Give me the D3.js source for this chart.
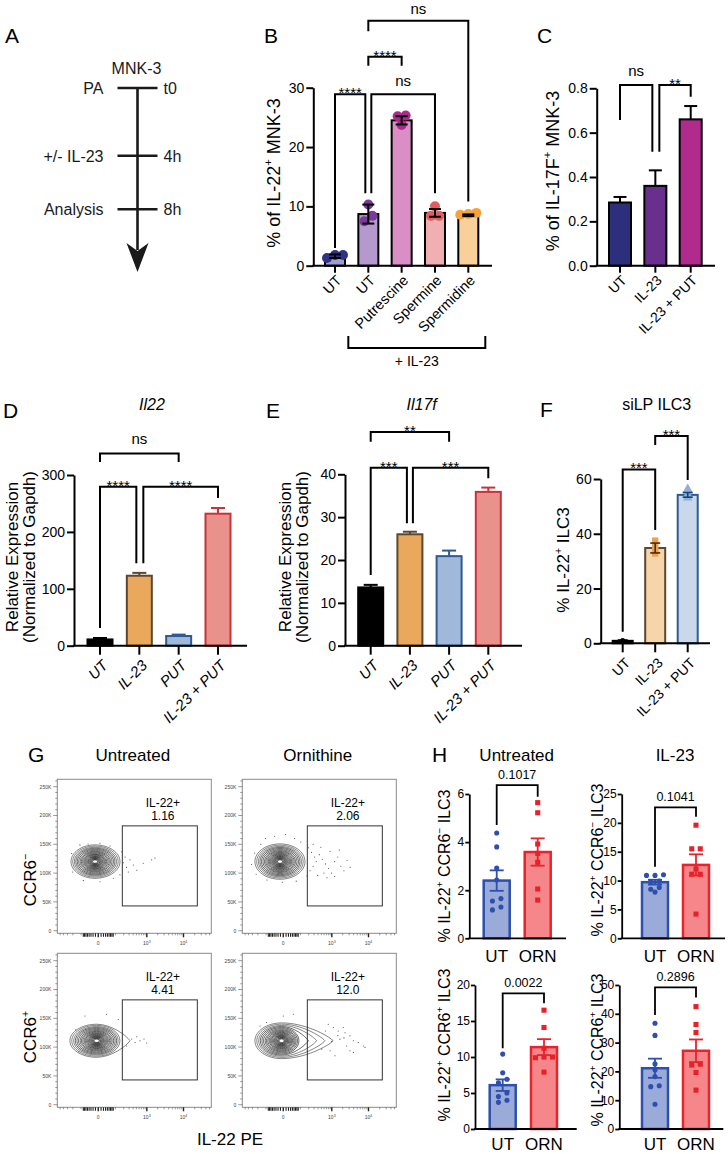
<!DOCTYPE html>
<html><head><meta charset="utf-8">
<script src="https://cdn.jsdelivr.net/npm/d3@7"></script>
<style>
body{margin:0;background:#fff}
svg{display:block}
text{font-family:"Liberation Sans",Arial,Helvetica,sans-serif}
</style>
</head><body>
<svg id="c" width="728" height="1154"></svg>
<script>
// ================= DATA =================
// A: timeline
const aSteps = ["PA", "+/- IL-23", "Analysis"];
const aTimes = ["t0", "4h", "8h"];
const aHours = [0, 4, 8];

// B
const bKeys = ["UT0", "UT", "PUT", "SPM", "SPD"];
const bLabels = ["UT", "UT", "Putrescine", "Spermine", "Spermidine"];
const bMeans = [1.6, 8.7, 24.5, 8.9, 8.5];
const bSD = [0.3, 1.6, 0.7, 0.65, 0.15];
const bPoints = [[1.3, 1.8, 1.8], [10.3, 8.4, 7.5], [25.3, 25.2, 23.7], [10.0, 8.4, 8.4], [8.9, 8.7, 8.6]];
const bTicks = [0, 10, 20, 30];
const bFills = ["#9a9ed0", "#b598cd", "#d98fc6", "#f2afb1", "#f9d09a"];
const bDots = ["#2e3386", "#7a3a9c", "#b0278f", "#e25c60", "#f6a13d"];
const bBrackets = [
  { a: "UT0", b: "UT", y: 28.9, ya: 3.0, yb: 12.2, db: -3, label: "****" },
  { a: "UT", b: "PUT", y: 35.2, ya: 33.7, yb: 33.7, label: "****" },
  { a: "UT", b: "SPM", y: 28.9, ya: 12.2, yb: 12.2, da: 3, label: "ns" },
  { a: "UT", b: "SPD", y: 41.3, ya: 39.5, yb: 10.8, label: "ns", ns: 6.5 }
];

// C
const cKeys = ["UT", "IL-23", "IL-23 + PUT"];
const cMeans = [0.285, 0.36, 0.66];
const cSEM = [0.025, 0.07, 0.06];
const cTicks = [0, 0.2, 0.4, 0.6, 0.8];
const cFills = ["#2b2f7c", "#682f8d", "#b02b8d"];
const cBrackets = [
  { a: "UT", b: "IL-23", y: 0.815, ya: 0.657, yb: 0.514, db: -3, label: "ns" },
  { a: "IL-23", b: "IL-23 + PUT", y: 0.815, ya: 0.514, yb: 0.762, da: 4, label: "**" }
];

// D / E
const deKeys = ["UT", "IL-23", "PUT", "IL-23 + PUT"];
const dMeans = [11, 123, 17, 232];
const dSEM = [2.5, 5, 2.5, 10];
const dTicks = [0, 100, 200, 300];
const dBrackets = [
  { a: "UT", b: "PUT", y: 338, ya: 323, yb: 323, label: "ns" },
  { a: "UT", b: "IL-23", y: 279.4, ya: 31, yb: 145, db: -3, label: "****" },
  { a: "IL-23", b: "IL-23 + PUT", y: 279.4, ya: 145, yb: 259.6, da: 4, label: "****" }
];
const eMeans = [13.6, 26.0, 20.9, 35.9];
const eSEM = [0.6, 0.6, 1.3, 1.0];
const eTicks = [0, 10, 20, 30, 40];
const eBrackets = [
  { a: "UT", b: "PUT", y: 49.9, ya: 47.6, yb: 47.6, label: "**" },
  { a: "UT", b: "IL-23", y: 41.5, ya: 16.5, yb: 28.6, db: -3, label: "***" },
  { a: "IL-23", b: "IL-23 + PUT", y: 41.5, ya: 28.6, yb: 39.1, da: 3, label: "***" }
];
const deFills = ["#000000", "#e9a85c", "#a0b8da", "#e8928b"];
const deStrokes = ["#000000", "#5c4830", "#2f5a92", "#c8323a"];

// F
const fKeys = ["UT", "IL-23", "IL-23 + PUT"];
const fMeans = [0.9, 34.8, 54.2];
const fSD = [0.3, 1.8, 0.85];
const fPoints = [[1.0, 0.8, 0.7], [37.5, 36.0, 34.2, 32.8], [56.3, 54.3, 53.2]];
const fTicks = [0, 20, 40, 60];
const fFills = ["#000000", "#f6d5ab", "#c9d8eb"];
const fStrokes = ["#000000", "#5c4830", "#2f5a92"];
const fDots = ["#111111", "#f0a04a", "#8cb0db"];
const fBrackets = [
  { a: "UT", b: "IL-23", y: 63.5, ya: 4.2, yb: 41.4, label: "***" },
  { a: "IL-23", b: "IL-23 + PUT", y: 75.7, ya: 72.4, yb: 59.6, label: "***" }
];

// G: flow plots (x in display %, y in K)
const gCols = ["Untreated", "Ornithine"];
const gFreq = [1.16, 2.06, 4.41, 12.0];
const gLevels = [1, .93, .86, .8, .74, .68, .62, .57, .52, .47, .43, .39, .35, .31, .28, .25, .22, .19, .16, .13, .1];
const gBlobs = [
  [24.5, 120, 15.6, 16.2, 29],
  [24.5, 120, 16.3, 16.2, 30.7],
  [25.6, 111, 17.4, 16.2, 28.7],
  [25.6, 111, 17.4, 15.1, 31]
];
const gTails = [[], [], [21.6], [33.4, 28.1, 22.7, 17.3]];
const gDots = [
  [[41.8,137],[44,128],[47.2,123],[49.4,114],[51.6,105],[55.8,117],[61.3,123],[63.4,126],[46.1,102],[40.7,97],[14.7,149],[20,150.5],[27.7,151.7],[34.2,147],[9.3,134],[10,102],[16.9,87],[27.7,85],[36.4,91],[43,118],[45,110]],
  [[15,160],[21,164],[28,167],[34,160],[38,154],[12,150],[8,135],[6,115],[9,98],[16,88],[26,84],[35,86],[42,95],[44,104],[46,112],[48,120],[47,128],[45,136],[43,144],[50,132],[52,124],[54,116],[56,108],[58,100],[53,100],[60,120],[62,128],[64,112],[66,104],[49,96],[55,92],[60,94],[68,122],[57,138],[51,145],[63,140],[70,110],[46,150]],
  [[18,154],[32,157],[48.3,114],[50.5,108],[53.7,111],[56.3,114],[58,107],[51.6,118],[45,102],[39.6,148],[12,130],[14,92]],
  [[55.8,139.7],[59.1,134],[62.3,128],[66.7,125],[69.9,119.5],[72.1,110.9],[75.3,108],[78.6,102],[67.8,102],[69.9,93.6],[72.1,90.8],[60.2,85],[57,93.6],[51.6,96.5],[33.1,157],[26.6,154],[15.8,142.6],[11.5,136.7],[65.6,134],[63.4,113.8],[79.7,99.5],[62,120],[58,110],[54,128],[66,116]]
];
const gYTicks = [0, 50, 100, 150, 200, 250];
const gXMajor = [[0, "0", ""], [1000, "10", "3"], [10000, "10", "4"]];
const gXMinor = [-500,-400,-300,-200,-100,-80,-70,-60,-50,-40,-30,-20,-10,10,20,30,40,50,60,70,80,100,200,300,400,500,600,700,800,900,2000,3000,4000,5000,6000,7000,8000,9000,20000,30000,40000,50000];
const gGate = [180, 23500, 43, 182];

// H
const hGroups = ["UT", "ORN"];
const hNegUntrUT = [4.38, 3.8, 2.92, 2.42, 1.65, 1.55, 1.3, 1.18];
const hNegUntrORN = [5.64, 5.22, 3.92, 3.53, 3.16, 2.05, 1.59];
const hNegIL23UT = [10.9, 10.9, 11.0, 9.8, 9.9, 8.8, 8.0, 8.5];
const hNegIL23ORN = [19.6, 15.5, 15.5, 12.0, 11.1, 11.1, 4.2];
const hPosUntrUT = [10.4, 7.8, 6.9, 6.4, 5.0, 4.5, 4.0, 3.7];
const hPosUntrORN = [16.5, 14.1, 11.2, 10.0, 10.0, 9.9, 7.9];
const hPosIL23UT = [36.7, 32.5, 22.6, 20.5, 18.2, 15.0, 14.7, 8.6];
const hPosIL23ORN = [42.5, 36.3, 33.5, 22.5, 22.2, 19.6, 13.5];
const hPvals = ["0.1017", "0.1041", "0.0022", "0.2896"];
const hFills = ["#9aaad9", "#f5878b"];
const hStrokes = ["#2d4fae", "#e8232b"];
const hDots = ["#2f4fae", "#e8202a"];

// ================= DRAWING =================
const svg = d3.select("#c");
svg.append("rect").attr("width", 728).attr("height", 1154).attr("fill", "#fff");

function rich(t, parts, fs) {
  let back = 0;
  parts.forEach(p => {
    if (typeof p === "string") {
      const ts = t.append("tspan").text(p);
      if (back) { ts.attr("dy", back); back = 0; }
    } else {
      t.append("tspan").attr("dy", -0.42 * fs).attr("font-size", fs * 0.62).text(p.sup);
      back = 0.42 * fs;
    }
  });
}
function txt(x, y, s, o = {}) {
  const fs = o.fs || 14;
  const t = svg.append("text").attr("x", x).attr("y", y)
    .attr("font-size", fs).attr("text-anchor", o.anchor || "start")
    .attr("fill", o.fill || "#000");
  if (o.italic) t.attr("font-style", "italic");
  if (o.rotate != null) t.attr("transform", `rotate(${o.rotate},${x},${y})`);
  if (Array.isArray(s)) rich(t, s, fs); else t.text(s);
  return t;
}

function rowOffsets(vals, y, tol, gap) {
  const idx = d3.range(vals.length).sort((i, j) => vals[j] - vals[i]);
  const offs = new Array(vals.length).fill(0);
  let row = [];
  const flush = () => { row.forEach((id, r) => offs[id] = ((row.length - 1) / 2 - r) * gap); row = []; };
  idx.forEach(id => {
    if (row.length && Math.abs(y(vals[row[0]]) - y(vals[id])) > tol) flush();
    row.push(id);
  });
  flush();
  return offs;
}

function barPanel(o) {
  const g = svg.append("g");
  const x = d3.scalePoint().domain(o.keys).range([o.c0, o.c1]);
  const y = d3.scaleLinear().domain([0, o.yMax]).range([o.yBase, o.yTop]);
  // bars
  g.selectAll(null).data(o.keys).join("rect")
    .attr("x", k => x(k) - o.barW / 2).attr("width", o.barW)
    .attr("y", (k, i) => y(o.means[i])).attr("height", (k, i) => y(0) - y(o.means[i]))
    .attr("fill", (k, i) => o.fills[i]).attr("stroke", (k, i) => o.strokes[i])
    .attr("stroke-width", o.barSW);
  // points
  if (o.points) {
    o.points.forEach((vals, i) => {
      const offs = rowOffsets(vals, y, o.rowTol, o.rowGap);
      const sym = d3.symbol().type(o.shapes[i]).size(o.symSize[i]);
      g.selectAll(null).data(vals).join("path")
        .attr("d", sym)
        .attr("transform", (v, j) => `translate(${x(o.keys[i]) + offs[j]},${y(v)})`)
        .attr("fill", o.ptColors[i]);
    });
  }
  // error bars
  o.keys.forEach((k, i) => {
    const cx = x(k), m = o.means[i], e = o.err[i];
    const col = o.errColors[i];
    const lo = o.errMode === "both" ? m - e : m;
    g.append("line").attr("x1", cx).attr("x2", cx).attr("y1", y(lo)).attr("y2", y(m + e))
      .attr("stroke", col).attr("stroke-width", o.errSW);
    const caps = o.errMode === "both" ? [m + e, m - e] : [m + e];
    caps.forEach(cv => g.append("line").attr("x1", cx - o.capW / 2).attr("x2", cx + o.capW / 2)
      .attr("y1", y(cv)).attr("y2", y(cv)).attr("stroke", col).attr("stroke-width", o.errSW));
  });
  // y axis
  const ax = d3.axisLeft(y).tickValues(o.ticks).tickSize(o.tickLen).tickSizeOuter(0)
    .tickPadding(o.tickPad).tickFormat(o.fmt);
  const ag = g.append("g").attr("transform", `translate(${o.x0},0)`).call(ax);
  ag.attr("font-size", o.tickFS);
  ag.select(".domain").attr("stroke-width", o.axisSW).attr("stroke", "#000");
  ag.selectAll(".tick line").attr("stroke-width", o.axisSW).attr("stroke", "#000");
  ag.selectAll(".tick text").attr("fill", "#000");
  // x axis
  g.append("line").attr("x1", o.x0 - o.axisSW / 2).attr("x2", o.x1)
    .attr("y1", o.yBase).attr("y2", o.yBase).attr("stroke", "#000").attr("stroke-width", o.axisSW);
  if (o.xTickLen) {
    g.selectAll(null).data(o.keys).join("line")
      .attr("x1", k => x(k)).attr("x2", k => x(k))
      .attr("y1", o.yBase).attr("y2", o.yBase + o.xTickLen)
      .attr("stroke", "#000").attr("stroke-width", o.axisSW);
  }
  o.keys.forEach((k, i) => {
    const t = g.append("text").attr("font-size", o.xFS).attr("fill", "#000");
    if (o.xItalic) t.attr("font-style", "italic");
    if (o.rot) {
      t.attr("transform", `translate(${x(k) + o.lblDx},${o.yBase + o.lblDy}) rotate(${o.rot})`)
        .attr("text-anchor", "end").attr("dy", "0.35em");
    } else {
      t.attr("x", x(k)).attr("y", o.yBase + o.lblDy).attr("text-anchor", "middle");
    }
    t.text(o.labels[i]);
  });
  // brackets
  (o.brackets || []).forEach(b => {
    const xa = x(b.a) + (b.da || 0), xb = x(b.b) + (b.db || 0);
    const yy = y(b.y);
    g.append("path").attr("d", `M${xa},${y(b.ya)}V${yy}H${xb}V${y(b.yb)}`)
      .attr("fill", "none").attr("stroke", "#000").attr("stroke-width", o.brSW);
    const star = /\*/.test(b.label);
    g.append("text").attr("x", (xa + xb) / 2).attr("y", star ? yy + o.starDy : yy - (b.ns || o.nsDy))
      .attr("text-anchor", "middle").attr("font-size", star ? o.starFS : o.brFS)
      .attr("fill", "#000").text(b.label);
  });
  return { x, y };
}

// ---------- Panel letters ----------
[["A", 5, 43], ["B", 264, 43], ["C", 537, 43], ["D", 3, 418], ["E", 266, 418], ["F", 540, 417], ["G", 28, 762], ["H", 432, 762]]
  .forEach(([s, x, y]) => txt(x, y, s, { fs: 21 }));

// ---------- Panel A ----------
{
  const aY = d3.scalePow().exponent(0.84).domain([0, 8]).range([88, 209.3]);
  const ax = 137.5;
  svg.append("line").attr("x1", ax).attr("x2", ax).attr("y1", aY(0) - 1).attr("y2", 250)
    .attr("stroke", "#1a1a1a").attr("stroke-width", 2.6);
  svg.append("path").attr("d", `M${ax - 11},243 L${ax},251 L${ax + 11},243 L${ax},272 Z`).attr("fill", "#1a1a1a");
  aHours.forEach((h, i) => {
    const yy = aY(h);
    svg.append("line").attr("x1", ax - 20).attr("x2", ax + 20).attr("y1", yy).attr("y2", yy)
      .attr("stroke", "#1a1a1a").attr("stroke-width", 2.6);
    txt(ax - 34, yy + 6, aSteps[i], { fs: 16, anchor: "end", fill: "#1a1a1a" });
    txt(ax + 26, yy + 6, aTimes[i], { fs: 16, fill: "#1a1a1a" });
  });
  txt(ax - 1, 74, "MNK-3", { fs: 16, anchor: "middle", fill: "#1a1a1a" });
}

// ---------- Panel B ----------
const pB = barPanel({
  keys: bKeys, labels: bLabels, means: bMeans, err: bSD, errMode: "both",
  points: bPoints, shapes: bKeys.map(() => d3.symbolCircle), symSize: bKeys.map(() => Math.PI * 25),
  ptColors: bDots, rowTol: 6, rowGap: 8,
  fills: bFills, strokes: bKeys.map(() => "#000"), errColors: bKeys.map(() => "#000"),
  x0: 313.3, x1: 492, c0: 335, c1: 468.3, yBase: 265.7, yTop: 87.7, yMax: 30,
  ticks: bTicks, fmt: d3.format("d"), tickLen: 7, tickPad: 2, tickFS: 14,
  barW: 20, barSW: 2, axisSW: 2, errSW: 2, capW: 12, xTickLen: 7,
  xFS: 14.5, xItalic: false, rot: -45, lblDx: 4, lblDy: 12,
  brackets: bBrackets, brSW: 2, brFS: 15, starFS: 15, nsDy: 8, starDy: 4
});
txt(279.6, 173, ["% of IL-22", { sup: "+" }, " MNK-3"], { fs: 18, rotate: -90, anchor: "middle" });
{
  const xa = pB.x("UT") - 20, xb = pB.x("SPD") + 17;
  svg.append("path").attr("d", `M${xa},336V348H${xb}V336`).attr("fill", "none")
    .attr("stroke", "#000").attr("stroke-width", 2);
  txt((xa + xb) / 2, 366, "+ IL-23", { fs: 14, anchor: "middle" });
}

// ---------- Panel C ----------
barPanel({
  keys: cKeys, labels: cKeys, means: cMeans, err: cSEM, errMode: "up",
  fills: cFills, strokes: cKeys.map(() => "#000"), errColors: cKeys.map(() => "#000"),
  x0: 596.7, x1: 715, c0: 620, c1: 690.7, yBase: 265.7, yTop: 88.3, yMax: 0.8,
  ticks: cTicks, fmt: d3.format(".1f"), tickLen: 7, tickPad: 2, tickFS: 14,
  barW: 22, barSW: 2, axisSW: 2, errSW: 2, capW: 13, xTickLen: 7,
  xFS: 14, xItalic: false, rot: -45, lblDx: 4, lblDy: 12,
  brackets: cBrackets, brSW: 2, brFS: 15, starFS: 15, nsDy: 9, starDy: 4
});
txt(559, 171, ["% of IL-17F", { sup: "+" }, " MNK-3"], { fs: 18, rotate: -90, anchor: "middle" });

// ---------- Panel D ----------
barPanel({
  keys: deKeys, labels: deKeys, means: dMeans, err: dSEM, errMode: "up",
  fills: deFills, strokes: deStrokes, errColors: deStrokes,
  x0: 74, x1: 247, c0: 100, c1: 218, yBase: 645.7, yTop: 475, yMax: 300,
  ticks: dTicks, fmt: d3.format("d"), tickLen: 7, tickPad: 2, tickFS: 14,
  barW: 25, barSW: 2, axisSW: 2, errSW: 2, capW: 14, xTickLen: 9,
  xFS: 15, xItalic: true, rot: -45, lblDx: 5, lblDy: 17,
  brackets: dBrackets, brSW: 2, brFS: 15, starFS: 15, nsDy: 9, starDy: 4
});
txt(152, 410, "Il22", { fs: 16, anchor: "middle", italic: true });
txt(17.5, 557, "Relative Expression", { fs: 17, rotate: -90, anchor: "middle" });
txt(34.5, 557, "(Normalized to Gapdh)", { fs: 17, rotate: -90, anchor: "middle" });

// ---------- Panel E ----------
barPanel({
  keys: deKeys, labels: deKeys, means: eMeans, err: eSEM, errMode: "up",
  fills: deFills, strokes: deStrokes, errColors: deStrokes,
  x0: 345, x1: 522, c0: 370.7, c1: 488.3, yBase: 645.7, yTop: 474.3, yMax: 40,
  ticks: eTicks, fmt: d3.format("d"), tickLen: 7, tickPad: 2, tickFS: 14,
  barW: 25, barSW: 2, axisSW: 2, errSW: 2, capW: 14, xTickLen: 9,
  xFS: 15, xItalic: true, rot: -45, lblDx: 5, lblDy: 17,
  brackets: eBrackets, brSW: 2, brFS: 15, starFS: 15, nsDy: 9, starDy: 4
});
txt(421.7, 410, "Il17f", { fs: 16, anchor: "middle", italic: true });
txt(290.5, 557, "Relative Expression", { fs: 17, rotate: -90, anchor: "middle" });
txt(307.5, 557, "(Normalized to Gapdh)", { fs: 17, rotate: -90, anchor: "middle" });

// ---------- Panel F ----------
barPanel({
  keys: fKeys, labels: fKeys, means: fMeans, err: fSD, errMode: "both",
  points: fPoints, shapes: [d3.symbolCircle, d3.symbolSquare, d3.symbolTriangle],
  symSize: [20, 40, 40], ptColors: fDots, rowTol: 0, rowGap: 0,
  fills: fFills, strokes: fStrokes, errColors: ["#000", "#3d3020", "#1f3f70"],
  x0: 600.7, x1: 710, c0: 622.7, c1: 687.7, yBase: 643.3, yTop: 479, yMax: 60,
  ticks: fTicks, fmt: d3.format("d"), tickLen: 7, tickPad: 2, tickFS: 14,
  barW: 20, barSW: 2, axisSW: 2, errSW: 1.6, capW: 10, xTickLen: 9,
  xFS: 14, xItalic: false, rot: -45, lblDx: 5, lblDy: 17,
  brackets: fBrackets, brSW: 2, brFS: 15, starFS: 15, nsDy: 9, starDy: 4
});
txt(656.7, 410, "siLP ILC3", { fs: 16, anchor: "middle" });
txt(569, 560, ["% IL-22", { sup: "+" }, " ILC3"], { fs: 17, rotate: -90, anchor: "middle" });

// ---------- Panel G ----------
{
  const lefts = [57.3, 242.3], tops = [779.3, 953.3], W = 154, Hh = 154;
  gCols.forEach((c, j) => txt(lefts[j] + W / 2 - 1.5, 760.7, c, { fs: 17, anchor: "middle" }));
  txt(36, 880, ["CCR6", { sup: "\u2212" }], { fs: 17, rotate: -90, anchor: "middle" });
  txt(36, 1037, ["CCR6", { sup: "+" }], { fs: 17, rotate: -90, anchor: "middle" });
  txt(230, 1145, "IL-22 PE", { fs: 17, anchor: "middle" });
  const fmtF = d3.format(".3r");
  for (let r = 0; r < 2; r++) for (let c = 0; c < 2; c++) {
    const p = r * 2 + c;
    const L = lefts[c], T = tops[r];
    const g = svg.append("g");
    const xs = d3.scaleSymlog().constant(53).domain([-606, 55600]).range([L, L + W]);
    const xd = d3.scaleLinear().domain([0, 100]).range([L, L + W]);
    const ys = d3.scaleLinear().domain([0, 250]).range([T + Hh - 2.6, T + 7.4]);
    g.append("rect").attr("x", L).attr("y", T).attr("width", W).attr("height", Hh)
      .attr("fill", "none").attr("stroke", "#8a8a8a").attr("stroke-width", 1);
    // y ticks
    d3.range(0, 261, 10).forEach(v => {
      const major = v % 50 === 0;
      g.append("line").attr("x1", L).attr("x2", L - (major ? 4 : 2)).attr("y1", ys(v)).attr("y2", ys(v))
        .attr("stroke", "#555").attr("stroke-width", 0.6);
    });
    gYTicks.forEach(v => {
      g.append("text").attr("x", L - 6).attr("y", ys(v) + 1.8).attr("text-anchor", "end")
        .attr("font-size", 5).attr("fill", "#444").text(v === 0 ? "0" : v + "K");
    });
    // x ticks
    const yb = T + Hh;
    gXMinor.forEach(v => g.append("line").attr("x1", xs(v)).attr("x2", xs(v)).attr("y1", yb).attr("y2", yb + (Math.abs(v) < 100 ? 3.5 : 2))
      .attr("stroke", Math.abs(v) < 100 ? "#222" : "#555").attr("stroke-width", Math.abs(v) < 100 ? 1.1 : 0.6));
    gXMajor.forEach(([v, l, s]) => {
      g.append("line").attr("x1", xs(v)).attr("x2", xs(v)).attr("y1", yb).attr("y2", yb + 4)
        .attr("stroke", "#222").attr("stroke-width", 1.4);
      const t = g.append("text").attr("x", xs(v)).attr("y", yb + 12).attr("text-anchor", "middle")
        .attr("font-size", 5).attr("fill", "#444");
      t.append("tspan").text(l);
      if (s) t.append("tspan").attr("dy", -2).attr("font-size", 3.5).text(s);
    });
    // contours
    const [cx, cy, lx, rx, ry] = gBlobs[p];
    const pcx = xd(cx), pcy = ys(cy);
    gLevels.forEach((f, i) => {
      const L2 = (xd(cx) - xd(cx - lx * f));
      const tail = gTails[p][i];
      const R2 = tail != null ? xd(cx + tail) - pcx : xd(cx + rx * f) - pcx;
      const Ry = (ys(0) - ys(ry * f));
      const k = 0.5523;
      let d = `M${pcx},${pcy - Ry}`;
      d += ` C${pcx - L2 * k},${pcy - Ry} ${pcx - L2},${pcy - Ry * k} ${pcx - L2},${pcy}`;
      d += ` C${pcx - L2},${pcy + Ry * k} ${pcx - L2 * k},${pcy + Ry} ${pcx},${pcy + Ry}`;
      if (tail != null) {
        d += ` C${pcx + R2 * 0.45},${pcy + Ry} ${pcx + R2 * 0.9},${pcy + Ry * 0.3} ${pcx + R2},${pcy}`;
        d += ` C${pcx + R2 * 0.9},${pcy - Ry * 0.3} ${pcx + R2 * 0.45},${pcy - Ry} ${pcx},${pcy - Ry}`;
      } else {
        d += ` C${pcx + R2 * k},${pcy + Ry} ${pcx + R2},${pcy + Ry * k} ${pcx + R2},${pcy}`;
        d += ` C${pcx + R2},${pcy - Ry * k} ${pcx + R2 * k},${pcy - Ry} ${pcx},${pcy - Ry}`;
      }
      g.append("path").attr("d", d + "Z").attr("fill", "none")
        .attr("stroke", i < 3 ? "#333" : "#1a1a1a").attr("stroke-width", i < 3 ? 0.6 : 0.65);
    });
    // dots
    g.selectAll(null).data(gDots[p]).join("circle")
      .attr("cx", d => xd(d[0])).attr("cy", d => ys(d[1])).attr("r", 0.55).attr("fill", "#444");
    // gate
    const gx0 = xs(gGate[0]), gx1 = xs(gGate[1]), gy0 = ys(gGate[3]), gy1 = ys(gGate[2]);
    g.append("rect").attr("x", gx0).attr("y", gy0).attr("width", gx1 - gx0).attr("height", gy1 - gy0)
      .attr("fill", "none").attr("stroke", "#333").attr("stroke-width", 1);
    const lx0 = (gx0 + gx1) / 2 + 3;
    g.append("text").attr("x", lx0).attr("y", gy0 - 19).attr("text-anchor", "middle").attr("font-size", 12).text("IL-22+");
    g.append("text").attr("x", lx0).attr("y", gy0 - 6).attr("text-anchor", "middle").attr("font-size", 12).text(fmtF(gFreq[p]));
  }
}

// ---------- Panel H ----------
{
  txt(516.7, 760.7, "Untreated", { fs: 17, anchor: "middle" });
  txt(675, 760.7, "IL-23", { fs: 17, anchor: "middle" });
  const sets = [
    { ut: hNegUntrUT, orn: hNegUntrORN, x0: 469.3, x1: 566, c0: 496.7, c1: 537.7, yBase: 938.3, yTop: 794, yMax: 6, ticks: [0, 2, 4, 6], br: [6.37, 4.71, 5.89], ld: 24 },
    { ut: hNegIL23UT, orn: hNegIL23ORN, x0: 621.7, x1: 725, c0: 655, c1: 696, yBase: 938.3, yTop: 794, yMax: 25, ticks: [0, 5, 10, 15, 20, 25], br: [22.7, 12.4, 21.07], ld: 24 },
    { ut: hPosUntrUT, orn: hPosUntrORN, x0: 475, x1: 576.7, c0: 502.7, c1: 544, yBase: 1129, yTop: 985, yMax: 20, ticks: [0, 5, 10, 15, 20], br: [18.85, 11.2, 17.46], ld: 20.5 },
    { ut: hPosIL23UT, orn: hPosIL23ORN, x0: 619.3, x1: 723.3, c0: 655, c1: 696, yBase: 1129, yTop: 985, yMax: 50, ticks: [0, 10, 20, 30, 40, 50], br: [49.2, 39.6, 45.7], ld: 20.5 }
  ];
  sets.forEach((s, i) => {
    const pts = [s.ut, s.orn];
    barPanel({
      keys: hGroups, labels: hGroups, means: pts.map(v => d3.mean(v)),
      err: pts.map(v => d3.deviation(v) / Math.sqrt(v.length)), errMode: "both",
      points: pts, shapes: [d3.symbolCircle, d3.symbolSquare], symSize: [Math.PI * 6.5, 26],
      ptColors: hDots, rowTol: 4.5, rowGap: 8.5,
      fills: hFills, strokes: hStrokes, errColors: hStrokes,
      x0: s.x0, x1: s.x1, c0: s.c0, c1: s.c1, yBase: s.yBase, yTop: s.yTop, yMax: s.yMax,
      ticks: s.ticks, fmt: d3.format("d"), tickLen: 4, tickPad: 1, tickFS: 12,
      barW: 26, barSW: 2.5, axisSW: 1.8, errSW: 1.8, capW: 14, xTickLen: 0,
      xFS: 17, rot: 0, lblDy: s.ld,
      brackets: [{ a: "UT", b: "ORN", y: s.br[0], ya: s.br[1], yb: s.br[2], label: hPvals[i] }],
      brSW: 1.8, brFS: 12.5, starFS: 12.5, nsDy: 6, starDy: 4
    });
  });
  txt(450, 866, ["% IL-22", { sup: "+" }, " CCR6", { sup: "\u2212" }, " ILC3"], { fs: 16, rotate: -90, anchor: "middle" });
  txt(602.5, 860, ["% IL-22", { sup: "+" }, " CCR6", { sup: "\u2212" }, " ILC3"], { fs: 16, rotate: -90, anchor: "middle" });
  txt(450, 1045, ["% IL-22", { sup: "+" }, " CCR6", { sup: "+" }, " ILC3"], { fs: 16, rotate: -90, anchor: "middle" });
  txt(602.5, 1050, ["% IL-22", { sup: "+" }, " CCR6", { sup: "+" }, " ILC3"], { fs: 16, rotate: -90, anchor: "middle" });
}
</script>
</body></html>
